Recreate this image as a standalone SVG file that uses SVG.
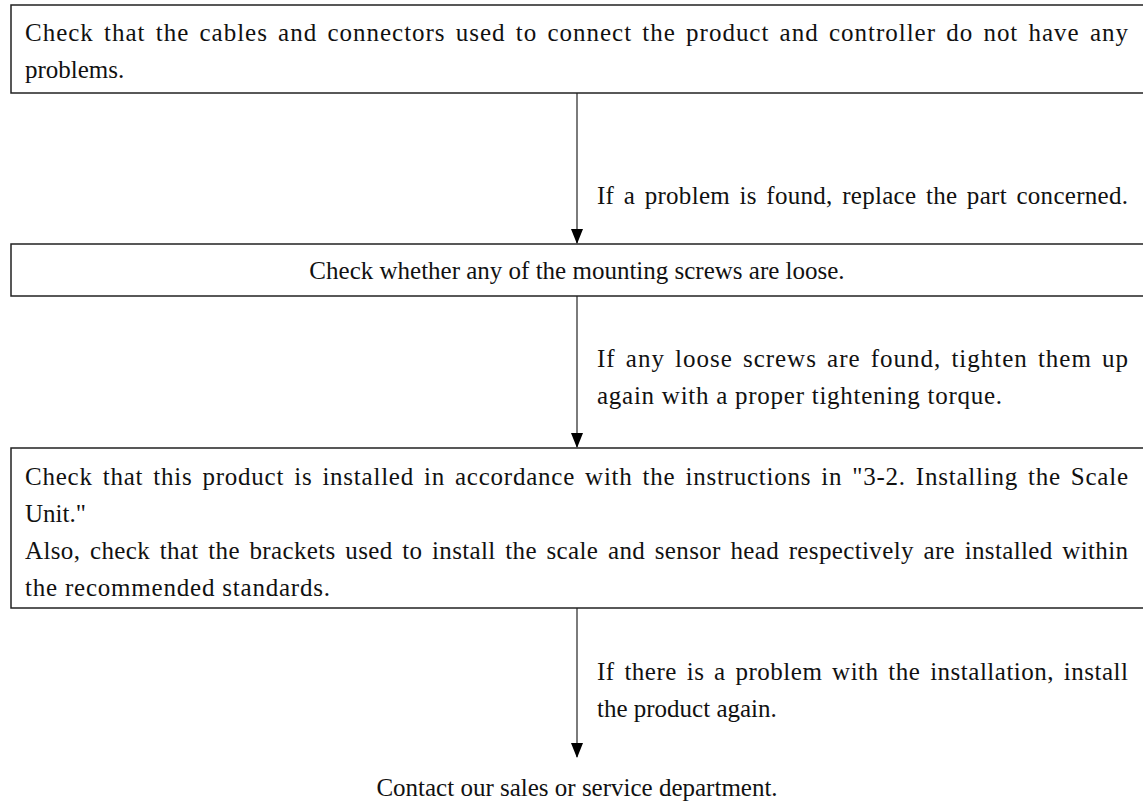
<svg xmlns="http://www.w3.org/2000/svg" width="1143" height="802" viewBox="0 0 1143 802">
<defs>
<style>
.box{fill:#fff;stroke:#222;stroke-width:1.5}
.t{font-family:"Liberation Serif","Times New Roman",serif;font-size:25px;fill:#111}
.c{text-anchor:middle}
.j{word-spacing:3px}
.ln{stroke:#444;stroke-width:1.4;fill:none}
</style>
</defs>
<rect width="1143" height="802" fill="#fff"/>
<g id="connectors">
<line class="ln" x1="577" y1="93" x2="577" y2="243"/>
<path d="M571,229 L583,229 L577,244 Z" fill="#000"/>
<line class="ln" x1="577" y1="296" x2="577" y2="447"/>
<path d="M571,433 L583,433 L577,448 Z" fill="#000"/>
<line class="ln" x1="577" y1="608" x2="577" y2="757"/>
<path d="M571,743 L583,743 L577,758 Z" fill="#000"/>
</g>
<g id="node1">
<rect class="box" x="11" y="5" width="1150" height="88"/>
<text class="t j" x="25" y="41" textLength="1103" lengthAdjust="spacing">Check that the cables and connectors used to connect the product and controller do not have any</text>
<text class="t" x="25" y="78">problems.</text>
</g>
<g id="label1">
<text class="t j" x="597" y="204" textLength="531" lengthAdjust="spacing">If a problem is found, replace the part concerned.</text>
</g>
<g id="node2">
<rect class="box" x="11" y="244" width="1150" height="52"/>
<text class="t c" x="577" y="279">Check whether any of the mounting screws are loose.</text>
</g>
<g id="label2">
<text class="t j" x="597" y="367" textLength="531" lengthAdjust="spacing">If any loose screws are found, tighten them up</text>
<text class="t" x="597" y="404" textLength="405" lengthAdjust="spacing">again with a proper tightening torque.</text>
</g>
<g id="node3">
<rect class="box" x="11" y="448" width="1150" height="160"/>
<text class="t j" x="25" y="485" textLength="1103" lengthAdjust="spacing">Check that this product is installed in accordance with the instructions in "3-2. Installing the Scale</text>
<text class="t" x="25" y="522">Unit."</text>
<text class="t j" x="25" y="559" textLength="1103" lengthAdjust="spacing">Also, check that the brackets used to install the scale and sensor head respectively are installed within</text>
<text class="t" x="25" y="596" textLength="305" lengthAdjust="spacing">the recommended standards.</text>
</g>
<g id="label3">
<text class="t j" x="597" y="680" textLength="531" lengthAdjust="spacing">If there is a problem with the installation, install</text>
<text class="t" x="597" y="717">the product again.</text>
</g>
<g id="node4">
<text class="t c" x="577" y="796">Contact our sales or service department.</text>
</g>
</svg>
